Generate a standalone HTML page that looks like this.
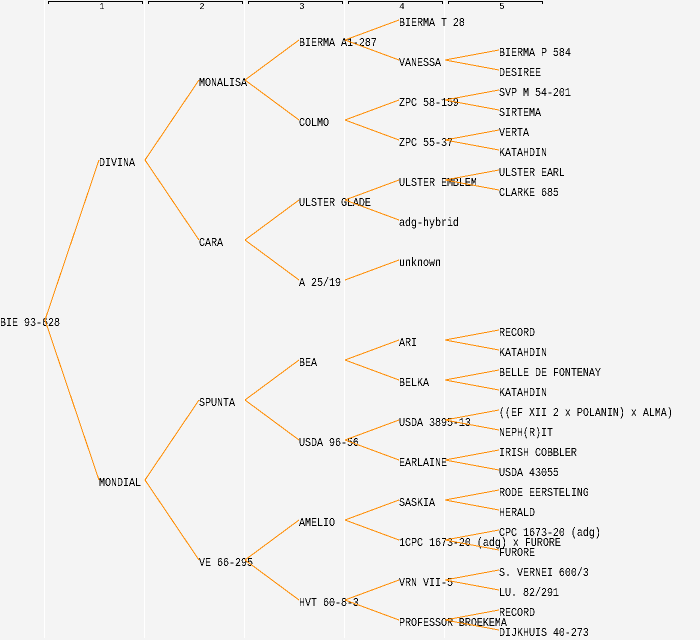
<!DOCTYPE html>
<html><head><meta charset="utf-8"><style>
html,body{margin:0;padding:0;background:#f4f4f4}
svg{display:block}
text{font-family:"Liberation Mono",monospace;font-size:12px;fill:#000}
.h{font-size:9px;text-anchor:middle}
</style></head><body>
<svg xmlns="http://www.w3.org/2000/svg" width="700" height="640" viewBox="0 0 700 640">
<defs><filter id="t" filterUnits="userSpaceOnUse" x="0" y="0" width="700" height="640" color-interpolation-filters="sRGB"><feComponentTransfer><feFuncA type="discrete" tableValues="0 0 1 1"/></feComponentTransfer></filter></defs>
<rect width="700" height="640" fill="#f4f4f4"/>
<g fill="#fff"><rect x="44" y="0" width="1" height="638"/><rect x="144" y="0" width="1" height="638"/><rect x="244" y="0" width="1" height="638"/><rect x="344" y="0" width="1" height="638"/><rect x="444" y="0" width="1" height="638"/></g>
<g fill="none" stroke="#000" shape-rendering="crispEdges">
<path d="M48.5 4V1.5H142.5V4"/><path d="M148.5 4V1.5H242.5V4"/><path d="M248.5 4V1.5H342.5V4"/><path d="M348.5 4V1.5H442.5V4"/><path d="M448.5 4V1.5H542.5V4"/>
</g>
<g filter="url(#t)">
<text class="h" x="102" y="9">1</text><text class="h" x="202" y="9">2</text><text class="h" x="302" y="9">3</text><text class="h" x="402" y="9">4</text><text class="h" x="502" y="9">5</text>
<g transform="scale(.83333 1)">
<text x="0" y="326">BIE 93-628</text>
<text x="118.8" y="166">DIVINA</text><text x="118.8" y="486">MONDIAL</text>
<text x="238.8" y="86">MONALISA</text><text x="238.8" y="246">CARA</text><text x="238.8" y="406">SPUNTA</text><text x="238.8" y="566">VE 66-295</text>
<text x="358.8" y="46">BIERMA A1-287</text><text x="358.8" y="126">COLMO</text><text x="358.8" y="206">ULSTER GLADE</text><text x="358.8" y="286">A 25/19</text><text x="358.8" y="366">BEA</text><text x="358.8" y="446">USDA 96-56</text><text x="358.8" y="526">AMELIO</text><text x="358.8" y="606">HVT 60-8-3</text>
<text x="478.8" y="26">BIERMA T 28</text><text x="478.8" y="66">VANESSA</text><text x="478.8" y="106">ZPC 58-159</text><text x="478.8" y="146">ZPC 55-37</text><text x="478.8" y="186">ULSTER EMBLEM</text><text x="478.8" y="226">adg-hybrid</text><text x="478.8" y="266">unknown</text><text x="478.8" y="346">ARI</text><text x="478.8" y="386">BELKA</text><text x="478.8" y="426">USDA 3895-13</text><text x="478.8" y="466">EARLAINE</text><text x="478.8" y="506">SASKIA</text><text x="478.8" y="546">1CPC 1673-20 (adg) x FURORE</text><text x="478.8" y="586">VRN VII-5</text><text x="478.8" y="626">PROFESSOR BROEKEMA</text>
<text x="598.8" y="56">BIERMA P 584</text><text x="598.8" y="76">DESIREE</text><text x="598.8" y="96">SVP M 54-201</text><text x="598.8" y="116">SIRTEMA</text><text x="598.8" y="136">VERTA</text><text x="598.8" y="156">KATAHDIN</text><text x="598.8" y="176">ULSTER EARL</text><text x="598.8" y="196">CLARKE 685</text>
<text x="598.8" y="336">RECORD</text><text x="598.8" y="356">KATAHDIN</text><text x="598.8" y="376">BELLE DE FONTENAY</text><text x="598.8" y="396">KATAHDIN</text><text x="598.8" y="416">((EF XII 2 x POLANIN) x ALMA)</text><text x="598.8" y="436">NEPH(R)IT</text><text x="598.8" y="456">IRISH COBBLER</text><text x="598.8" y="476">USDA 43055</text><text x="598.8" y="496">RODE EERSTELING</text><text x="598.8" y="516">HERALD</text><text x="598.8" y="536">CPC 1673-20 (adg)</text><text x="598.8" y="556">FURORE</text><text x="598.8" y="576">S. VERNEI 600/3</text><text x="598.8" y="596">LU. 82/291</text><text x="598.8" y="616">RECORD</text><text x="598.8" y="636">DIJKHUIS 40-273</text>
</g>
</g>
<path fill="none" stroke="#ff8c00" stroke-width="1" shape-rendering="crispEdges" d="M45 320L99 160M45 320L99 480
M145 160L199 80M145 160L199 240M145 480L199 400M145 480L199 560
M245 80L299 40M245 80L299 120M245 240L299 200M245 240L299 280M245 400L299 360M245 400L299 440M245 560L299 520M245 560L299 600
M345 40L399 20M345 40L399 60M345 120L399 100M345 120L399 140M345 200L399 180M345 200L399 220M345 280L399 260M345 360L399 340M345 360L399 380M345 440L399 420M345 440L399 460M345 520L399 500M345 520L399 540M345 600L399 580M345 600L399 620
M445 60L499 50M445 60L499 70M445 100L499 90M445 100L499 110M445 140L499 130M445 140L499 150M445 180L499 170M445 180L499 190
M445 340L499 330M445 340L499 350M445 380L499 370M445 380L499 390M445 420L499 410M445 420L499 430M445 460L499 450M445 460L499 470M445 500L499 490M445 500L499 510M445 540L499 530M445 540L499 550M445 580L499 570M445 580L499 590M445 620L499 610M445 620L499 630"/>
</svg>
</body></html>
